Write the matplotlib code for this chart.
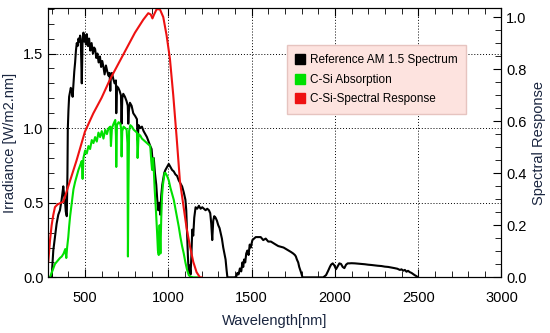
#!/usr/bin/env python3
"""
AM 1.5 reference spectrum vs. c-Si absorption and spectral response.
"""
import numpy as np
import matplotlib.pyplot as plt
from matplotlib.ticker import MultipleLocator
from matplotlib.lines import Line2D

# AM 1.5 reference spectrum [W/m2.nm]
am15_wl = [280, 300, 310, 320, 330, 340, 350, 360, 370, 375, 380, 385, 391, 395, 397,
           401, 405, 410, 415, 421, 426, 431, 436, 441, 446, 451, 456, 461, 466, 471,
           476, 481, 486, 491, 496, 501, 506, 511, 518, 525, 532, 540, 548, 555, 561,
           568, 575, 582, 590, 597, 604, 611, 618, 626, 634, 642, 648, 652, 656, 662,
           670, 678, 686, 688, 692, 700, 708, 716, 720, 724, 730, 740, 750, 757, 760,
           764, 770, 780, 790, 802, 812, 816, 822, 832, 842, 852, 862, 872, 882, 892,
           900, 906, 913, 920, 928, 934, 940, 946, 952, 958, 964, 970, 976, 983, 993,
           1003, 1013, 1023, 1033, 1043, 1053, 1063, 1073, 1083, 1093, 1103, 1108, 1113,
           1118, 1123, 1128, 1134, 1139, 1144, 1150, 1156, 1164, 1174, 1184, 1194, 1204,
           1214, 1224, 1234, 1244, 1252, 1258, 1264, 1270, 1276, 1284, 1292, 1300, 1308,
           1314, 1322, 1330, 1337, 1344, 1350, 1355, 1380, 1400, 1410, 1415, 1422, 1430,
           1438, 1445, 1450, 1455, 1462, 1468, 1475, 1482, 1489, 1495, 1505, 1515, 1525,
           1540, 1555, 1570, 1585, 1600, 1616, 1630, 1645, 1660, 1677, 1692, 1707, 1722,
           1737, 1750, 1760, 1766, 1772, 1780, 1786, 1795, 1806, 1850, 1900, 1930, 1947,
           1960, 1970, 1977, 1987, 1997, 2007, 2017, 2027, 2037, 2047, 2057, 2067, 2077,
           2087, 2100, 2120, 2140, 2158, 2180, 2200, 2220, 2240, 2258, 2280, 2300, 2320,
           2340, 2358, 2375, 2390, 2400, 2410, 2420, 2430, 2439, 2450, 2460, 2470, 2479,
           2490, 2499]
am15_irr = [0.0, 0.0, 0.18, 0.27, 0.36, 0.42, 0.45, 0.52, 0.61, 0.55, 0.52, 0.44, 0.41, 0.70, 0.99,
            1.12, 1.21, 1.24, 1.27, 1.25, 1.21, 1.30, 1.38, 1.44, 1.52, 1.57, 1.55, 1.60, 1.58, 1.62,
            1.55, 1.30, 1.60, 1.64, 1.58, 1.62, 1.56, 1.63, 1.55, 1.60, 1.52, 1.57, 1.50, 1.54, 1.53,
            1.47, 1.50, 1.44, 1.48, 1.41, 1.45, 1.41, 1.36, 1.42, 1.38, 1.35, 1.37, 1.25, 1.36, 1.37,
            1.33, 1.30, 1.32, 1.10, 1.28, 1.27, 1.25, 1.22, 1.03, 1.20, 1.23, 1.21, 1.18, 1.15, 1.03,
            1.12, 1.17, 1.15, 1.10, 1.08, 1.06, 0.92, 1.02, 1.00, 1.01, 0.98, 0.96, 0.94, 0.91, 0.88,
            0.86, 0.78, 0.80, 0.70, 0.62, 0.52, 0.45, 0.50, 0.42, 0.55, 0.62, 0.66, 0.70, 0.72, 0.74,
            0.76, 0.74, 0.72, 0.71, 0.69, 0.68, 0.65, 0.63, 0.61, 0.57, 0.52, 0.45, 0.30,
            0.14, 0.03, 0.08, 0.02, 0.15, 0.32, 0.28, 0.40, 0.47, 0.46, 0.48, 0.46, 0.47,
            0.46, 0.45, 0.46, 0.45, 0.43, 0.36, 0.25, 0.38, 0.41, 0.40, 0.38, 0.35, 0.33,
            0.30, 0.26, 0.20, 0.16, 0.12, 0.05, 0.0, 0.0, 0.0, 0.01, 0.03, 0.02, 0.06,
            0.04, 0.10, 0.07, 0.12, 0.10, 0.16, 0.18, 0.15, 0.22, 0.20, 0.25, 0.26, 0.27,
            0.27, 0.27, 0.25, 0.26, 0.24, 0.24, 0.23, 0.22, 0.21, 0.205, 0.20, 0.19, 0.18,
            0.17, 0.16, 0.15, 0.14, 0.12, 0.10, 0.07, 0.04, 0.0, 0.0, 0.0, 0.0, 0.015,
            0.045, 0.07, 0.085, 0.094, 0.08, 0.055, 0.075, 0.094, 0.09, 0.07, 0.062, 0.085, 0.094,
            0.094, 0.095, 0.094, 0.092, 0.090, 0.088, 0.085, 0.083, 0.080, 0.078, 0.076, 0.072, 0.070,
            0.066, 0.062, 0.058, 0.050, 0.054, 0.045, 0.050, 0.038, 0.044, 0.035, 0.030, 0.022, 0.015,
            0.008, 0.0]

# c-Si absorbed irradiance [W/m2.nm]
absorb_wl = [290, 300, 310, 320, 335, 350, 361, 372, 382, 388, 393, 400, 405, 411, 421,
             431, 441, 451, 461, 471, 481, 486, 491, 501, 511, 521, 531, 541, 551, 561,
             571, 581, 591, 601, 611, 622, 632, 642, 652, 656, 662, 672, 682, 686, 688,
             692, 702, 712, 717, 720, 724, 732, 742, 750, 755, 758, 761, 765, 772, 782,
             792, 802, 812, 816, 822, 832, 842, 852, 862, 872, 882, 892, 898, 903, 910,
             918, 926, 933, 938, 943, 948, 953, 958, 963, 968, 973, 978, 983, 993, 1003,
             1013, 1023, 1033, 1043, 1053, 1063, 1073, 1083, 1093, 1103, 1113, 1123, 1133,
             1150, 1174]
absorb_irr = [0.0, 0.03, 0.06, 0.09, 0.11, 0.13, 0.14, 0.16, 0.19, 0.13, 0.20, 0.27, 0.34, 0.41, 0.50,
              0.59, 0.64, 0.68, 0.72, 0.75, 0.78, 0.66, 0.80, 0.85, 0.83, 0.88, 0.86, 0.92, 0.90, 0.94,
              0.91, 0.97, 0.94, 0.98, 0.93, 0.99, 0.96, 1.00, 1.01, 0.88, 1.00, 1.03, 1.055, 0.95, 0.74,
              1.02, 1.04, 1.03, 1.00, 0.81, 0.98, 1.01, 1.00, 0.99, 0.90, 0.14, 0.60, 0.98, 1.02, 1.01,
              0.99, 0.98, 0.97, 0.80, 0.96, 0.95, 0.93, 0.92, 0.91, 0.90, 0.89, 0.88, 0.78, 0.72, 0.80,
              0.60, 0.45, 0.30, 0.18, 0.15, 0.35, 0.16, 0.40, 0.55, 0.62, 0.66, 0.70, 0.70, 0.68, 0.65,
              0.60, 0.56, 0.52, 0.46, 0.40, 0.34, 0.27, 0.21, 0.16, 0.10, 0.05, 0.015, 0.005,
              0.0, 0.0]

# c-Si spectral response (right axis)
resp_wl = [280, 290, 300, 310, 320, 335, 350, 370, 390, 420, 450, 500, 550, 600, 650,
           700, 750, 800, 850, 880, 895, 905, 915, 930, 950, 970, 990, 1010, 1030, 1050,
           1070, 1090, 1110, 1130, 1150, 1170, 1190, 1200]
resp_val = [0.06, 0.14, 0.20, 0.24, 0.27, 0.28, 0.285, 0.29, 0.33, 0.39, 0.45, 0.56, 0.63, 0.69, 0.76,
            0.82, 0.88, 0.94, 0.99, 1.015, 1.01, 0.995, 1.01, 1.03, 1.03, 1.00, 0.93, 0.84, 0.70, 0.54,
            0.37, 0.28, 0.19, 0.12, 0.06, 0.02, 0.0, 0.0]

legend_labels = ['Reference AM 1.5 Spectrum', 'C-Si Absorption', 'C-Si-Spectral Response']
label_color = '#1a2640'


def main():
    plt.rcParams['font.family'] = ['Liberation Sans', 'DejaVu Sans']

    fig = plt.figure(figsize=(5.5, 3.33), dpi=100)
    ax = fig.add_axes([0.0878, 0.167, 0.824, 0.809])

    ax.plot(am15_wl, am15_irr, color='black', linewidth=1.5)
    ax.plot(absorb_wl, absorb_irr, color='#00e000', linewidth=1.5)

    ax.set_xlim(280, 3000)
    ax.set_ylim(0, 1.805)
    ax.xaxis.set_major_locator(MultipleLocator(500))
    ax.xaxis.set_minor_locator(MultipleLocator(100))
    ax.yaxis.set_major_locator(MultipleLocator(0.5))
    ax.yaxis.set_minor_locator(MultipleLocator(0.1))
    ax.tick_params(which='both', direction='in', top=True, right=False, labelsize=10.5)
    ax.tick_params(axis='x', which='both', pad=10)
    ax.tick_params(which='major', length=6)
    ax.tick_params(which='minor', length=4)
    ax.yaxis.set_major_formatter(plt.FormatStrFormatter('%.1f'))
    ax.grid(True, which='major', linestyle=(0, (1, 2)), color='black', linewidth=0.7)

    ax.set_xlabel('Wavelength[nm]', fontsize=10.5, color=label_color, labelpad=6)
    ax.set_ylabel('Irradiance [W/m2.nm]', fontsize=10.5, color=label_color, labelpad=4)

    ax2 = ax.twinx()
    ax2.plot(resp_wl, resp_val, color='#ee1111', linewidth=1.5)
    ax2.set_ylim(0, 1.035)
    ax2.yaxis.set_major_locator(MultipleLocator(0.2))
    ax2.yaxis.set_minor_locator(MultipleLocator(0.05))
    ax2.yaxis.set_major_formatter(plt.FormatStrFormatter('%.1f'))
    ax2.tick_params(which='both', direction='in', labelsize=10.5)
    ax2.tick_params(which='major', length=6)
    ax2.tick_params(which='minor', length=4)
    ax2.set_ylabel('Spectral Response', fontsize=10.5, color=label_color, labelpad=4)

    handles = [Line2D([], [], linestyle='none', marker='s', markersize=7,
                      markerfacecolor=c, markeredgecolor=c)
               for c in ['black', '#00e000', '#ee1111']]
    leg = ax2.legend(handles, legend_labels, loc='upper left',
                     bbox_to_anchor=(0.513, 0.884), fontsize=8.5, frameon=True,
                     fancybox=False, handlelength=0.8, handletextpad=0.4,
                     borderpad=0.75, labelspacing=0.65)
    leg.get_frame().set_facecolor('#fde3df')
    leg.get_frame().set_edgecolor('#e6c4c0')
    leg.get_frame().set_alpha(1.0)

    fig.savefig('out.png', dpi=100)


if __name__ == '__main__':
    main()
